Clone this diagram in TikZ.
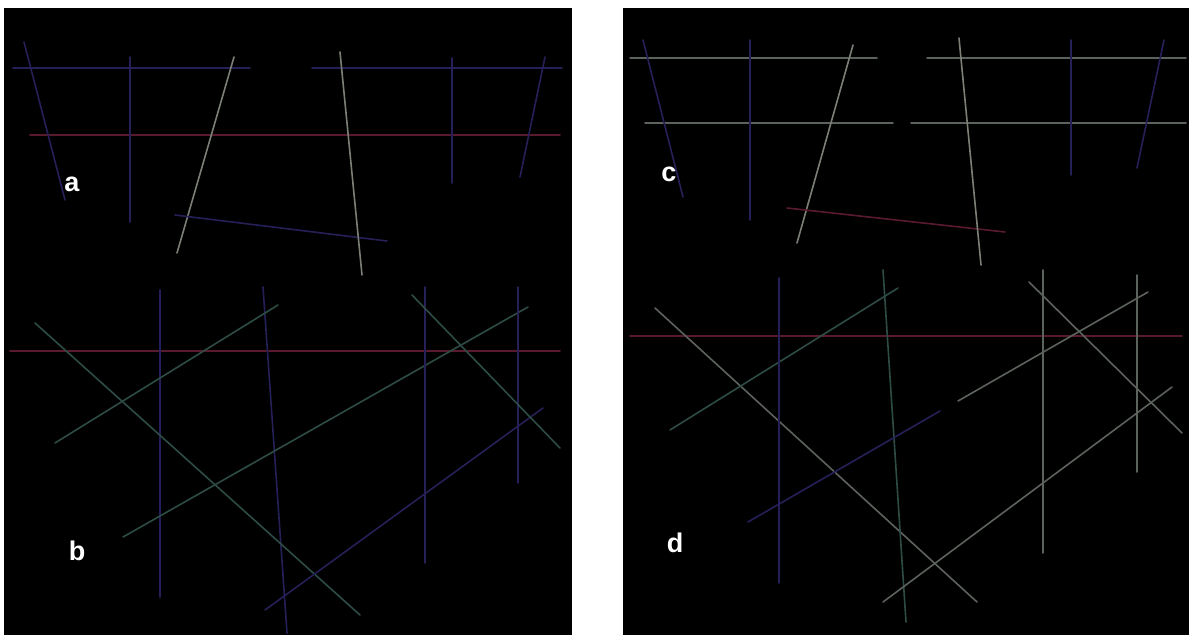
\documentclass[tikz,border=0pt]{standalone}
\usepackage{fontspec}
\setmainfont{Liberation Sans}
\usepackage{xcolor}
\usetikzlibrary{math}
\definecolor{lineblue}{RGB}{38,32,88}
\definecolor{linered}{RGB}{88,26,44}
\definecolor{linegrey}{RGB}{92,98,92}
\definecolor{lightgrey}{RGB}{122,128,118}
\definecolor{lineteal}{RGB}{46,76,70}
\tikzset{
  seg/.style={line width=1.6pt, line cap=round},
  lbl/.style={text=white, font=\fontsize{27}{29}\selectfont\bfseries, inner sep=0pt}
}

\begin{document}
\begin{tikzpicture}[x=1pt,y=-1pt]
\tikzmath{
\W=1189;
\H=635;
\lx=4;
\rx=572;
\Lx=623;
\Rx=1189;
\ty=8;
}
\useasboundingbox (0,0) rectangle (\W,\H);
\fill[white] (0,0) rectangle (\W,\H);

% two black panels
\fill[black] (\lx,\ty) rectangle (\rx,\H);
\fill[black] (\Lx,\ty) rectangle (\Rx,\H);

% panel a
\draw[seg, lineblue] (13,68) -- (250,68);
\draw[seg, lineblue] (312,68) -- (562,68);
\draw[seg, linered] (30,135) -- (560,135);
\draw[seg, lineblue] (24,42) -- (65,200);
\draw[seg, lineblue] (130,57) -- (130,222);
\draw[seg, lightgrey] (234,57) -- (177,253);
\draw[seg, lineblue] (175,215) -- (387,241);
\draw[seg, lightgrey] (340,52) -- (362,275);
\draw[seg, lineblue] (452,58) -- (452,183);
\draw[seg, lineblue] (545,57) -- (520,177);
\node[lbl] (la) at (72,184) {a};

% panel b
\draw[seg, linered] (10,351) -- (560,351);
\draw[seg, lineblue] (160,290) -- (160,597);
\draw[seg, lineblue] (263,287) -- (287,633);
\draw[seg, lineteal] (55,443) -- (278,305);
\draw[seg, lineteal] (35,323) -- (360,615);
\draw[seg, lineteal] (123,537) -- (528,307);
\draw[seg, lineblue] (265,610) -- (543,408);
\draw[seg, lineblue] (425,287) -- (425,563);
\draw[seg, lineblue] (518,287) -- (518,483);
\draw[seg, lineteal] (412,295) -- (560,448);
\node[lbl] (lb) at (77,551) {b};

% panel c
\draw[seg, linegrey] (630,58) -- (877,58);
\draw[seg, linegrey] (927,58) -- (1186,58);
\draw[seg, linegrey] (645,123) -- (893,123);
\draw[seg, linegrey] (911,123) -- (1186,123);
\draw[seg, lineblue] (643,40) -- (683,197);
\draw[seg, lineblue] (750,40) -- (750,220);
\draw[seg, lightgrey] (853,45) -- (797,243);
\draw[seg, linered] (787,208) -- (1005,232);
\draw[seg, lightgrey] (959,38) -- (981,265);
\draw[seg, lineblue] (1071,40) -- (1071,175);
\draw[seg, lineblue] (1164,40) -- (1137,168);
\node[lbl] (lc) at (669,174) {c};

% panel d
\draw[seg, linered] (630,336) -- (1182,336);
\draw[seg, linegrey] (655,308) -- (977,602);
\draw[seg, lineteal] (670,430) -- (898,288);
\draw[seg, lineblue] (779,278) -- (779,583);
\draw[seg, lineteal] (883,270) -- (906,622);
\draw[seg, lineblue] (748,522) -- (940,411);
\draw[seg, linegrey] (958,401) -- (1148,292);
\draw[seg, linegrey] (1043,270) -- (1043,553);
\draw[seg, linegrey] (1029,282) -- (1182,433);
\draw[seg, linegrey] (1137,275) -- (1137,472);
\draw[seg, linegrey] (883,602) -- (1172,387);
\node[lbl] (ld) at (675,543) {d};
\end{tikzpicture}
\end{document}
